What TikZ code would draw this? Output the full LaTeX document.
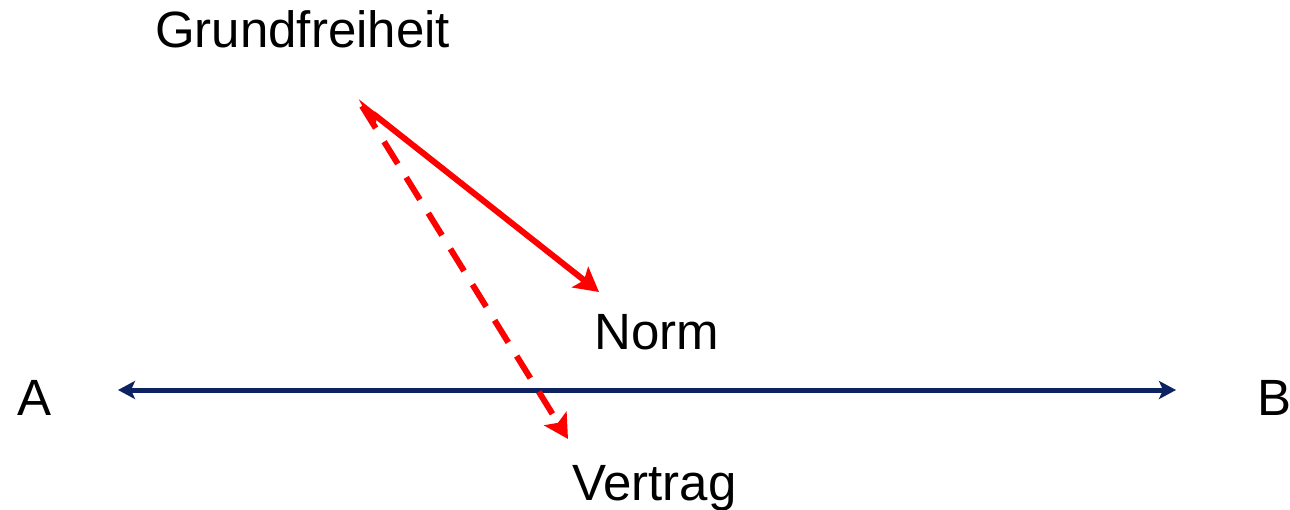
\documentclass[tikz,border=0pt]{standalone}
\usepackage{fontspec}
\setmainfont{Liberation Sans}
\usetikzlibrary{arrows.meta}
\definecolor{navy}{HTML}{0C2261}
\definecolor{pred}{HTML}{FF0000}
\tikzset{
  lbl/.style={anchor=base west, inner sep=0pt, font=\fontsize{51}{60}\selectfont},
  axis/.style={draw=navy, line width=5pt, {Stealth[length=17pt,width=18pt,inset=4pt]}-{Stealth[length=17pt,width=18pt,inset=4pt]}},
  redarrow/.style={draw=pred, line width=6pt, -{Stealth[length=24pt,width=26pt,inset=5pt]}},
}
\begin{document}
\begin{tikzpicture}[x=1pt,y=-1pt]
\useasboundingbox (0,0) rectangle (1290,510);
\node[lbl] (grund) at (155,48) {Grundfreiheit};
\node[lbl] (norm) at (594,350) {Norm};
\node[lbl] (vertrag) at (572,500) {Vertrag};
\node[lbl] (A) at (17,415) {A};
\node[lbl] (B) at (1257,415) {B};
\coordinate (g) at (357,101);
\coordinate (gd) at (362,106);
\coordinate (n) at (599,292);
\coordinate (v) at (568,439);
\coordinate (al) at (118,390);
\coordinate (ar) at (1176,390);
\draw[axis] (al) -- (ar);
\draw[redarrow, {Stealth[harpoon,length=25pt,width=22pt,inset=5pt]}-{Stealth[length=24pt,width=26pt,inset=5pt]}] (g) -- (n);
\draw[redarrow, dash pattern=on 26pt off 16pt] (gd) -- (v);
\end{tikzpicture}
\end{document}
